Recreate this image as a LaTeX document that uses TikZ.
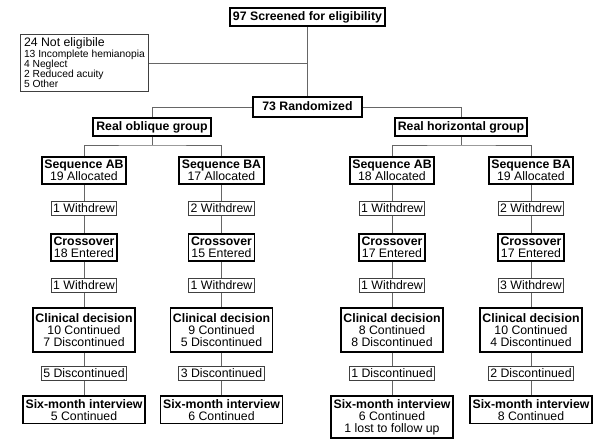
\documentclass[tikz,border=0pt]{standalone}
\usepackage{fontspec}
\setmainfont{Liberation Sans}
\usetikzlibrary{positioning}
\newcommand{\boxfont}{\fontsize{12.3}{12}\selectfont}
\newcommand{\smallfont}{\fontsize{10.3}{10}\selectfont}
\tikzset{
  headbox/.style={draw, line width=1.8pt, font=\boxfont\bfseries, inner xsep=3pt, inner ysep=3.3pt, text height=9pt, text depth=2.5pt},
  stagebox/.style={draw, line width=1.8pt, font=\boxfont, align=center, inner xsep=2.5pt, inner ysep=3.3pt},
  lossbox/.style={draw=black!75, line width=0.9pt, font=\boxfont, inner xsep=2pt, inner ysep=2.7pt},
  link/.style={draw=black!60, line width=0.9pt},
}
\begin{document}
\begin{tikzpicture}[x=1pt,y=-1pt]
\useasboundingbox (0,0) rectangle (600,443);
% Screening and randomisation
\node[headbox] (screen) at (307.5,17) {97 Screened for eligibility};
\node[draw=black!75, line width=1pt, anchor=north west, align=left, inner sep=3.5pt, font=\smallfont] (noelig) at (20,34)
  {{\fontsize{12.3}{13}\selectfont 24 Not eligibile}\\13 Incomplete hemianopia\\4 Neglect\\2 Reduced acuity\\5 Other};
\node[headbox, minimum width=109pt, minimum height=20pt] (rand) at (307.5,107) {73 Randomized};
\node[headbox] (obl) at (152,127) {Real oblique group};
\node[headbox] (hor) at (461,127) {Real horizontal group};
\draw[link] (screen) -- (rand);
\draw[link] (noelig) -- (noelig -| screen);
\draw[link] (obl) |- (rand);
\draw[link] (hor) |- (rand);
% Branch points under the groups
\coordinate (oblsplit) at (152,145);
\coordinate (horsplit) at (461,145);
\draw[link] (obl) -- (oblsplit);
\draw[link] (hor) -- (horsplit);
% One column per sequence
\foreach \col/\x/\seq/\nalloc/\nwa/\nent/\nwb/\ncon/\ndis/\ndrop/\sixtext in {
  1/84/AB/19/1/18/1/10/7/5/{5 Continued},
  2/221.5/BA/17/2/15/1/9/5/3/{6 Continued},
  3/392/AB/18/1/17/1/8/8/1/{6 Continued\\1 lost to follow up},
  4/531/BA/19/2/17/3/10/4/2/{8 Continued}}
{
  \node[stagebox] (seq\col) at (\x,170.5) {\textbf{Sequence \seq}\\\nalloc{} Allocated};
  \node[lossbox] (wa\col) at (\x,208.2) {\nwa{} Withdrew};
  \node[stagebox] (cross\col) at (\x,247.5) {\textbf{Crossover}\\\nent{} Entered};
  \node[lossbox] (wb\col) at (\x,285.3) {\nwb{} Withdrew};
  \node[stagebox, minimum height=43.5pt] (clin\col) at (\x,330) {\textbf{Clinical decision}\\\ncon{} Continued\\\ndis{} Discontinued};
  \node[lossbox] (drop\col) at (\x,373.3) {\ndrop{} Discontinued};
  \node[stagebox, anchor=north] (six\col) at (\x,395) {\textbf{Six-month interview}\\\sixtext};
  \draw[link] (seq\col) -- (wa\col) -- (cross\col) -- (wb\col) -- (clin\col) -- (drop\col) -- (six\col);
}
\draw[link] (seq1) |- (oblsplit) -| (seq2);
\draw[link] (seq3) |- (horsplit) -| (seq4);
\end{tikzpicture}
\end{document}
